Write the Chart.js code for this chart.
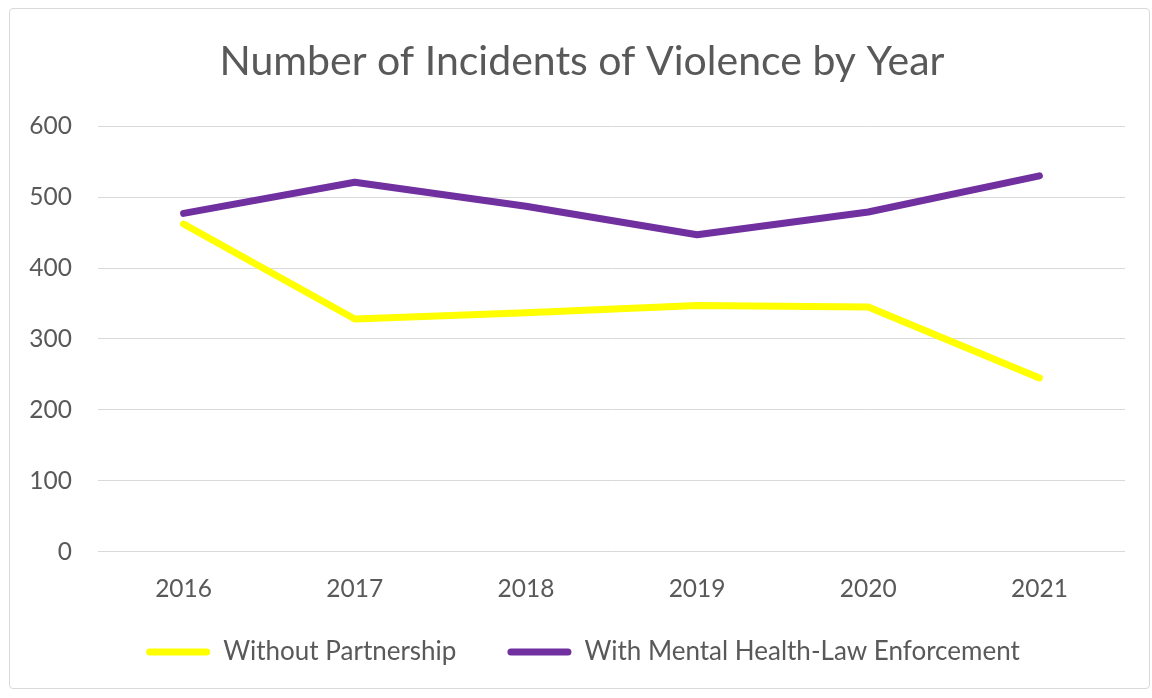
<!DOCTYPE html>
<html>
<head>
<meta charset="utf-8">
<script src="https://cdn.jsdelivr.net/npm/chart.js@4"></script>
<style>
  html, body { margin: 0; padding: 0; background: #ffffff; }
  #frame {
    position: absolute; left: 9px; top: 8px;
    width: 1139px; height: 679px;
    border: 1px solid #d9d9d9; border-radius: 4px;
    background: #ffffff;
  }
  #frame canvas { display: block; }
</style>
</head>
<body>
<div id="frame"><canvas id="chart" width="1139" height="679"></canvas></div>
<script>
// Incident counts per year for each program type
const years = ['2016', '2017', '2018', '2019', '2020', '2021'];
const withoutPartnership = [462, 328, 337, 347, 345, 245];
const withPartnership = [477, 521, 487, 447, 479, 530];
const yTicks = [0, 100, 200, 300, 400, 500, 600];

const seriesNames = ['Without Partnership', 'With Mental Health-Law Enforcement'];
const seriesColors = ['#ffff00', '#7030a0'];

const textColor = '#595959';
const fontFamily = 'Lato, "Open Sans", sans-serif';

function lineSeries(i, values) {
  return {
    label: seriesNames[i],
    data: values,
    borderColor: seriesColors[i],
    backgroundColor: seriesColors[i],
    borderWidth: 7,
    pointRadius: 0,
    borderCapStyle: 'round',
    borderJoinStyle: 'round',
    tension: 0
  };
}

// Centre the title and legend over the whole frame rather than the
// area left of the right-hand padding.
const recentreBlocks = {
  id: 'recentreBlocks',
  afterLayout(c) {
    if (c.titleBlock) c.titleBlock.left += 29;
    if (c.legend) c.legend.left += 31;
  }
};

const chart = new Chart(document.getElementById('chart'), {
  type: 'line',
  data: {
    labels: years,
    datasets: [lineSeries(0, withoutPartnership), lineSeries(1, withPartnership)]
  },
  plugins: [recentreBlocks],
  options: {
    responsive: false,
    animation: false,
    layout: { padding: { left: 0, right: 24, top: 28, bottom: 13 } },
    plugins: {
      title: {
        display: true,
        text: 'Number of Incidents of Violence by Year',
        color: textColor,
        font: { family: fontFamily, size: 41, weight: 'normal' },
        padding: { top: 0, bottom: 40 }
      },
      legend: {
        position: 'bottom',
        labels: {
          color: textColor,
          font: { family: fontFamily, size: 26 },
          boxWidth: 64,
          boxHeight: 7,
          useBorderRadius: true,
          borderRadius: 3.5,
          padding: 12,
          generateLabels(c) {
            return Chart.defaults.plugins.legend.labels.generateLabels(c).map((item, i, all) => {
              item.lineWidth = 0;
              item.strokeStyle = 'rgba(0,0,0,0)';
              // wider gap between the two legend entries
              if (i < all.length - 1) item.text += '\u2003\u2003';
              return item;
            });
          }
        }
      },
      tooltip: { enabled: false }
    },
    scales: {
      x: {
        offset: true,
        grid: { display: false, drawTicks: false },
        border: { display: false },
        ticks: {
          color: textColor,
          font: { family: fontFamily, size: 24.5 },
          padding: 23
        }
      },
      y: {
        min: yTicks[0],
        max: yTicks[yTicks.length - 1],
        afterBuildTicks(axis) {
          axis.ticks = yTicks.map(v => ({ value: v }));
        },
        afterFit(axis) { axis.width = 88; },
        grid: { color: '#d9d9d9', lineWidth: 1, drawTicks: false },
        border: { display: false },
        ticks: {
          color: textColor,
          font: { family: fontFamily, size: 24.5 },
          padding: 26
        }
      }
    }
  }
});
</script>
</body>
</html>
